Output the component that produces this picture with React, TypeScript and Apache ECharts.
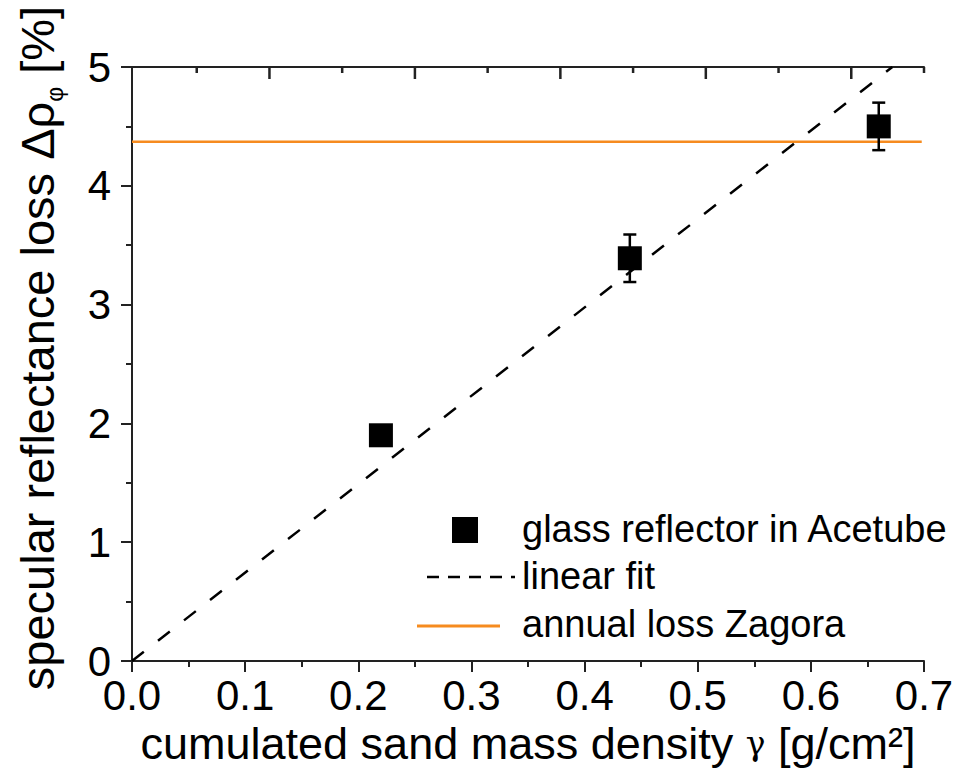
import React, { useEffect, useRef } from "react";
import * as echarts from "echarts";

// ---- data ----
const densityX = [0.22, 0.44, 0.66];            // cumulated sand mass density γ [g/cm²]
const lossY = [1.9, 3.39, 4.5];                 // specular reflectance loss [%]
const lossErr = [0.05, 0.2, 0.2];               // error bar half-heights [%]
const fitX = [0, 0.672];                        // linear fit end points (x)
const fitY = [0, 5.0];                          // linear fit end points (y)
const annualX = [0, 0.698];
const annualLoss = 4.37;                        // annual loss Zagora [%]
const xTicks = [0, 0.1, 0.2, 0.3, 0.4, 0.5, 0.6, 0.7];
const yTicks = [0, 1, 2, 3, 4, 5];
const topRange = [0, 5.5];                      // unlabelled top axis
const topMajor = [1, 2, 3, 4, 5];
const topMinor = [0.5, 1.5, 2.5, 3.5, 4.5, 5.5];

const FONT = "Liberation Sans, Arial, sans-serif";
const AX = "#222";
const ORANGE = "#f68b1f";

const tickSeries = (values: number[], len: number) => ({
  type: "custom",
  xAxisIndex: 1,
  yAxisIndex: 1,
  clip: false,
  silent: true,
  data: values.map((v) => [v, 2]),
  renderItem: (params: any, api: any) => {
    const p = api.coord([api.value(0), api.value(1)]);
    return {
      type: "line",
      shape: { x1: p[0], y1: p[1], x2: p[0], y2: p[1] + len },
      style: { stroke: AX, lineWidth: 2.5 },
    };
  },
  z: 6,
});

export default function App() {
  const ref = useRef<HTMLDivElement>(null);
  useEffect(() => {
    if (!ref.current) return;
    const chart = echarts.init(ref.current, null, { renderer: "svg" });
    const rect = { left: 124, right: 34, top: 67, bottom: 110 };
    const option: any = {
      animation: false,
      backgroundColor: "#fff",
      textStyle: { fontFamily: FONT, color: "#000" },
      grid: [rect, { ...rect }],
      xAxis: [
        {
          type: "value",
          gridIndex: 0,
          position: "bottom",
          min: xTicks[0],
          max: xTicks[xTicks.length - 1],
          interval: 0.1,
          axisLine: { show: true, onZero: false, lineStyle: { color: AX, width: 2 } },
          axisTick: { show: true, inside: false, length: 11, lineStyle: { color: AX, width: 2 } },
          minorTick: { show: true, splitNumber: 2, length: 6, lineStyle: { color: AX, width: 2 } },
          splitLine: { show: false },
          axisLabel: {
            fontSize: 42, margin: 13, color: "#000", fontFamily: FONT,
            formatter: (v: number) => v.toFixed(1),
          },
          name: "cumulated sand mass density {g|γ} [g/cm²]",
          nameLocation: "middle",
          nameGap: 60,
          nameTextStyle: {
            fontSize: 45, color: "#000", fontFamily: FONT,
            rich: { g: { fontSize: 33, fontFamily: "DejaVu Serif, serif", color: "#000" } },
          },
        },
        {
          type: "value",
          gridIndex: 1,
          position: "top",
          min: topRange[0],
          max: topRange[1],
          axisLine: { show: true, lineStyle: { color: AX, width: 2 } },
          axisTick: { show: false },
          axisLabel: { show: false },
          splitLine: { show: false },
        },
      ],
      yAxis: [
        {
          type: "value",
          gridIndex: 0,
          min: yTicks[0],
          max: yTicks[yTicks.length - 1],
          interval: 1,
          axisLine: { show: true, onZero: false, lineStyle: { color: AX, width: 2 } },
          axisTick: { show: true, inside: false, length: 11, lineStyle: { color: AX, width: 2 } },
          minorTick: { show: true, splitNumber: 2, length: 6, lineStyle: { color: AX, width: 2 } },
          splitLine: { show: false },
          axisLabel: { fontSize: 42, margin: 21, color: "#000", fontFamily: FONT },
          name: "specular reflectance loss Δρ{sub|φ} [%]",
          nameLocation: "middle",
          nameRotate: 90,
          nameGap: 66,
          nameTextStyle: {
            fontSize: 47, color: "#000", fontFamily: FONT, lineHeight: 58,
            padding: [0, 0, 0, 32],
            rich: { sub: { fontSize: 23, verticalAlign: "bottom", lineHeight: 23, color: "#000", fontFamily: FONT } },
          },
        },
        {
          type: "value",
          gridIndex: 1,
          min: 1,
          max: 2,
          show: false,
        },
      ],
      series: [
        {
          name: "annual loss Zagora",
          type: "line",
          xAxisIndex: 0,
          yAxisIndex: 0,
          data: annualX.map((x) => [x, annualLoss]),
          symbol: "none",
          lineStyle: { color: ORANGE, width: 2.5 },
          z: 2,
        },
        {
          name: "linear fit",
          type: "line",
          xAxisIndex: 0,
          yAxisIndex: 0,
          data: fitX.map((x, i) => [x, fitY[i]]),
          symbol: "none",
          lineStyle: { color: "#000", width: 2.5, type: [15, 18] },
          z: 3,
        },
        {
          name: "error",
          type: "custom",
          xAxisIndex: 0,
          yAxisIndex: 0,
          data: densityX.map((x, i) => [x, lossY[i] - lossErr[i], lossY[i] + lossErr[i]]),
          renderItem: (params: any, api: any) => {
            const lo = api.coord([api.value(0), api.value(1)]);
            const hi = api.coord([api.value(0), api.value(2)]);
            const cap = 6.5;
            const st = { stroke: "#000", lineWidth: 2.5 };
            return {
              type: "group",
              children: [
                { type: "line", shape: { x1: lo[0], y1: lo[1], x2: hi[0], y2: hi[1] }, style: st },
                { type: "line", shape: { x1: lo[0] - cap, y1: lo[1], x2: lo[0] + cap, y2: lo[1] }, style: st },
                { type: "line", shape: { x1: hi[0] - cap, y1: hi[1], x2: hi[0] + cap, y2: hi[1] }, style: st },
              ],
            };
          },
          z: 4,
        },
        {
          name: "glass reflector in Acetube",
          type: "scatter",
          xAxisIndex: 0,
          yAxisIndex: 0,
          data: densityX.map((x, i) => [x, lossY[i]]),
          symbol: "rect",
          symbolSize: 24,
          itemStyle: { color: "#000", opacity: 1 },
          z: 5,
        },
        tickSeries(topMajor, 12),
        tickSeries(topMinor, 6),
      ],
      graphic: [
        { type: "rect", left: 452, top: 517, shape: { width: 26, height: 26 }, style: { fill: "#000" } },
        { type: "text", left: 522, top: 510, style: { text: "glass reflector in Acetube", fontSize: 38, fontFamily: FONT, fill: "#000" } },
        { type: "line", shape: { x1: 427, y1: 577, x2: 515, y2: 577 }, style: { stroke: "#000", lineWidth: 2.5, lineDash: [12, 9] } },
        { type: "text", left: 522, top: 557, style: { text: "linear fit", fontSize: 38, fontFamily: FONT, fill: "#000" } },
        { type: "line", shape: { x1: 417, y1: 626, x2: 500, y2: 626 }, style: { stroke: ORANGE, lineWidth: 3 } },
        { type: "text", left: 522, top: 605, style: { text: "annual loss Zagora", fontSize: 38, fontFamily: FONT, fill: "#000" } },
      ],
    };
    chart.setOption(option);
    return () => chart.dispose();
  }, []);
  return (
    <div
      ref={ref}
      style={{ position: "absolute", left: 0, top: 0, width: 958, height: 771, background: "#fff" }}
    />
  );
}
